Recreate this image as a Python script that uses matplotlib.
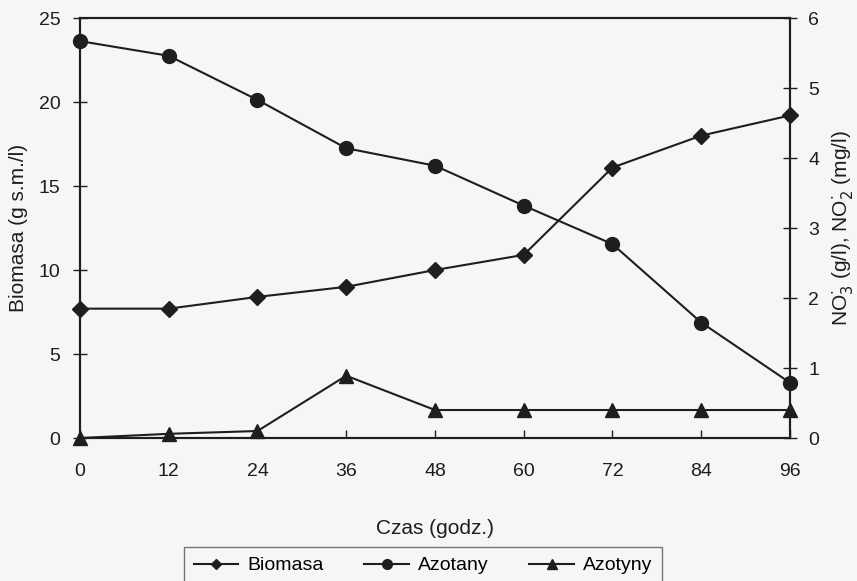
import numpy as np
import matplotlib.pyplot as plt

plt.rcParams['font.family'] = ['Liberation Sans', 'DejaVu Sans']

# time (h)
czas = [0, 12, 24, 36, 48, 60, 72, 84, 96]
# left axis, g s.m./l
biomasa = [7.7, 7.7, 8.4, 9.0, 10.0, 10.9, 16.1, 18.0, 19.2]
# right axis
azotany = [5.67, 5.46, 4.83, 4.14, 3.89, 3.32, 2.77, 1.65, 0.79]
azotyny = [0.0, 0.06, 0.10, 0.89, 0.40, 0.40, 0.40, 0.40, 0.40]

bg = '#f6f6f6'
ink = '#1e1e1e'

fig = plt.figure(figsize=(8.57, 5.81), dpi=100, facecolor=bg)
ax = fig.add_axes([0.0933, 0.2461, 0.8285, 0.7229], facecolor=bg)
ax2 = ax.twinx()

l1, = ax.plot(czas, biomasa, color=ink, lw=1.5, marker='D', ms=8, label='Biomasa')
l2, = ax2.plot(czas, azotany, color=ink, lw=1.5, marker='o', ms=10, label='Azotany')
l3, = ax2.plot(czas, azotyny, color=ink, lw=1.5, marker='^', ms=10, label='Azotyny')
for l in (l1, l2, l3):
    l.set_clip_on(False)

ax.set_xlim(0, 96)
ax.set_ylim(0, 25)
ax2.set_ylim(0, 6)
ax.set_xticks(czas)
ax.set_yticks(np.arange(0, 26, 5))
ax2.set_yticks(np.arange(0, 7, 1))

for a in (ax, ax2):
    for s in a.spines.values():
        s.set_linewidth(1.5)
        s.set_color(ink)
ax.tick_params(axis='y', direction='inout', length=10, width=1, labelsize=14, colors=ink, pad=9)
ax.tick_params(axis='x', direction='in', length=6, width=1, labelsize=14, colors=ink, pad=18)
ax2.tick_params(axis='y', direction='inout', length=10, width=1, labelsize=14, colors=ink, pad=8)

ax.set_ylabel('Biomasa (g s.m./l)', fontsize=15, color=ink, labelpad=8)
ax2.set_ylabel('NO$_3^{\\cdot}$ (g/l), NO$_2^{\\cdot}$ (mg/l)', fontsize=15, color=ink, labelpad=8)
ax.set_xlabel('Czas (godz.)', fontsize=15, color=ink, labelpad=28)

leg = fig.legend(handles=[l1, l2, l3], loc='upper center', bbox_to_anchor=(423 / 857, 0.0585),
                 ncol=3, fontsize=14, frameon=True, fancybox=False, edgecolor='#555555',
                 facecolor=bg, handlelength=2.3, handletextpad=0.45, columnspacing=2.1,
                 borderpad=0.5, borderaxespad=0.0, markerscale=0.7)
leg.get_frame().set_linewidth(1.0)

fig.savefig('out.png', dpi=100, facecolor=bg)
